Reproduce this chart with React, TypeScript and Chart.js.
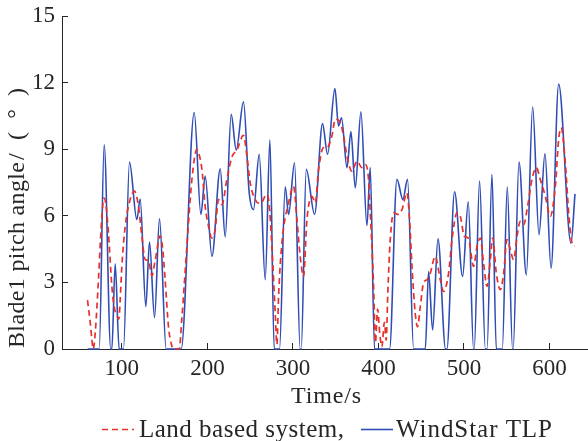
import { useEffect, useRef } from "react";
import { Chart, registerables } from "chart.js";

Chart.register(...registerables);

// Land based system: time (s) and blade 1 pitch angle (deg)
const landTime = [
  59.8, 63, 65, 66.5, 69, 72.6, 76, 79, 81, 84.3, 88.3, 91, 94.2, 96.5, 98, 100,
  103.9, 109.7, 114.7, 119.4, 123.4, 127.3, 131, 135.1, 139, 144.8, 147.5, 150.6,
  154.5, 158, 160, 167, 170.2, 176, 181.9, 187.7, 190, 193.6, 197.4, 201.3, 205.3,
  209.1, 213, 217, 222.8, 228.7, 234.5, 242.2, 246.2, 250, 255.9, 261.8, 269.6,
  272, 275.4, 279.3, 281.3, 283.2, 287.1, 294.9, 300.7, 304.7, 308.5, 312.4,
  316.4, 322.2, 326.1, 330, 335.8, 339.8, 345.6, 349.5, 355.3, 359.2, 363.2, 369,
  374.9, 380.7, 384.6, 388.4, 390.4, 392.4, 394.3, 396.5, 399, 401.5, 404, 407,
  409, 411, 413.8, 417.7, 423.5, 427.5, 433.3, 436.4, 439.2, 443, 445.7, 448.9,
  452.7, 456.7, 460.6, 466.4, 472.3, 476.1, 482, 486, 491.8, 495.7, 500.4, 505,
  511.2, 515.2, 519.1, 522.9, 526.9, 530.8, 533.5, 537.8, 542.5, 546.4, 550.3,
  554.2, 558, 562, 565.8, 569.7, 574.4, 579.5, 584.6, 589.2, 595.1, 600.9, 606.8,
  610.7, 613.5, 618.5, 622.4, 626.3, 629.3,
];
const landPitch = [
  2.2, 1.2, 0.4, 0, 0.8, 3.1, 5.6, 6.8, 6.6, 5.23, 2.82, 1.9, 1.5, 1.35, 2.2, 3.72,
  5.53, 6.73, 7.11, 6.43, 5.07, 4.02, 4.0, 3.3, 4.0, 5.1, 4.6, 3.12,
  1.0, 0.2, 0, 0, 1.4, 4.62, 7.64, 8.99, 8.8, 8.09, 6.43, 5.53, 5.0,
  5.38, 6.73, 6.5, 7.64, 8.66, 8.96, 9.62, 8.69, 7.49, 6.73, 6.55, 6.96,
  6.6, 4.62, 1.62, 0.2, 2.36, 4.77, 6.58, 7.33, 5.83, 4.17, 3.27,
  5.83, 6.88, 6.58, 8.09, 9.07, 9.07, 9.6, 10.35, 10.2, 9.6, 8.69, 8.01,
  8.46, 8.17, 8.31, 7.64, 6.13, 4.62, 2.82, 0.3, 1.8, 0.7, 0.1, 1.2,
  0.4, 2.6, 4.93, 6.13, 6.06, 6.28, 7.04, 5.83, 3.72, 1.61, 1.0, 1.91,
  2.97, 3.12, 3.42, 4.17, 3.12, 2.59, 3.42, 4.93, 6.13, 5.98, 5.07, 5.0,
  3.72, 4.62, 5.0, 3.87, 2.82, 4.02, 5.0, 3.42, 2.67, 3.42, 4.93,
  4.47, 4.02, 5.07, 5.75, 5.6, 6.43, 7.64, 8.17, 7.64, 6.88, 5.98, 7.33,
  9.44, 9.97, 8.39, 6.13, 4.77, 4.62,
];

// WindStar TLP: time (s) and blade 1 pitch angle (deg)
const tlpTime = [
  60, 73.5, 79.3, 87, 88.3, 92.2, 96.8, 101.9, 108.9, 117.5, 121.4, 128, 132.3,
  138.2, 144, 151.8, 169.3, 184.6, 192.4, 197.4, 205.3, 215, 220.8, 227.8, 233.7,
  242.2, 248.7, 253.9, 260.6, 267.6, 273.1, 278.1, 284.3, 291, 294.9, 301.9,
  308.5, 309.7, 315.6, 325.3, 334.6, 340.5, 349.1, 353.3, 356.8, 363.2, 367.8,
  372.9, 379.5, 386.5, 390.4, 395.4, 413, 421.6, 428.6, 434, 441.1, 454.8, 458.6,
  463.3, 469.6, 478.5, 480, 489, 498.4, 505, 511.2, 512, 518.2, 525, 527, 532.7,
  537.8, 544.8, 550.6, 556.8, 557.5, 564.3, 572.9, 580.3, 587.7, 594.7, 601.8,
  610.7, 625.1, 629.8,
];
const tlpPitch = [
  0, 0, 9.2, 0, 0, 3.84, 0, 0, 8.42, 5.83, 6.76, 1.91, 4.82,
  1.42, 5.86, 0, 0, 10.65, 6.06, 7.79, 4.17, 8.12, 5.05, 10.57, 8.96,
  11.13, 7.11, 6.28, 8.77, 3.12, 9.41, 0, 0, 7.31, 6.06, 8.39,
  0, 0, 8.09, 6.06, 10.15, 8.77, 11.73, 10.05, 10.42, 8.17, 9.79,
  7.26, 10.68, 5.56, 8.17, 0, 0, 7.64, 6.73, 7.64, 0, 0, 3.49,
  0.86, 4.96, 0, 0, 7.08, 3.27, 6.63, 0, 0, 7.56, 0, 0, 7.86,
  0, 0, 7.29, 0, 0, 8.42, 3.34, 10.9, 5.15, 8.8, 3.64,
  11.93, 4.77, 6.99,
];

const xTickValues = [100, 200, 300, 400, 500, 600];
const yTickValues = [0, 3, 6, 9, 12, 15];
const seriesNames = ["Land based system,", "WindStar TLP"];
const xTitle = "Time/s";
const yTitleMain = "Blade1 pitch angle";
const yTitleUnit = "/(°)";

const SERIF = '"Liberation Serif", "Times New Roman", serif';
const INK = "#262626";
const RED = "#e8302a";
const BLUE = "#2f4db4";

const toPoints = (xs: number[], ys: number[]) => xs.map((x, i) => ({ x, y: ys[i] }));

// Draws text stretched by letter spacing so that it spans the given width.
function spreadText(ctx: CanvasRenderingContext2D, text: string, x: number, y: number, width: number) {
  (ctx as any).letterSpacing = "0px";
  const natural = ctx.measureText(text).width;
  const gap = text.length > 1 ? Math.max(0, (width - natural) / (text.length - 1)) : 0;
  (ctx as any).letterSpacing = `${gap}px`;
  ctx.fillText(text, x, y);
  (ctx as any).letterSpacing = "0px";
}

const annotations = {
  id: "axisTitlesAndKey",
  afterDraw(chart: Chart) {
    const { ctx, chartArea } = chart;
    ctx.save();
    ctx.fillStyle = INK;
    ctx.textBaseline = "alphabetic";
    ctx.textAlign = "left";

    // x-axis title
    ctx.font = `24px ${SERIF}`;
    const cx = (chartArea.left + chartArea.right) / 2 + 2;
    spreadText(ctx, xTitle, cx - 36, 403, 70);

    // y-axis title, read bottom to top
    ctx.save();
    ctx.translate(24, 348);
    ctx.rotate(-Math.PI / 2);
    ctx.font = `24px ${SERIF}`;
    spreadText(ctx, yTitleMain, 0, 0, 186);
    spreadText(ctx, yTitleUnit, 188, 0, 72);
    ctx.restore();

    // key below the axis title
    const keyY = 429.5;
    ctx.lineWidth = 1.6;
    ctx.strokeStyle = RED;
    ctx.setLineDash([6, 4]);
    ctx.beginPath();
    ctx.moveTo(102, keyY);
    ctx.lineTo(134, keyY);
    ctx.stroke();
    ctx.setLineDash([]);
    ctx.strokeStyle = BLUE;
    ctx.beginPath();
    ctx.moveTo(361, keyY);
    ctx.lineTo(393, keyY);
    ctx.stroke();

    ctx.font = `25px ${SERIF}`;
    spreadText(ctx, seriesNames[0], 139, 437, 205);
    spreadText(ctx, seriesNames[1], 396, 437, 156);
    ctx.restore();
  },
};

export default function App() {
  const canvasRef = useRef<HTMLCanvasElement | null>(null);

  useEffect(() => {
    const canvas = canvasRef.current;
    if (!canvas) return;
    const chart = new Chart(canvas, {
      type: "line",
      data: {
        datasets: [
          {
            label: seriesNames[0],
            data: toPoints(landTime, landPitch),
            borderColor: RED,
            borderWidth: 1.7,
            borderDash: [6, 4],
            pointRadius: 0,
            cubicInterpolationMode: "monotone",
            fill: false,
          },
          {
            label: seriesNames[1],
            data: toPoints(tlpTime, tlpPitch),
            borderColor: BLUE,
            borderWidth: 1.6,
            pointRadius: 0,
            cubicInterpolationMode: "monotone",
            fill: false,
          },
        ],
      },
      options: {
        responsive: false,
        animation: false,
        devicePixelRatio: 1,
        clip: false,
        layout: { padding: { left: 0, right: 0, top: 16, bottom: 0 } },
        plugins: {
          legend: { display: false },
          tooltip: { enabled: false },
          title: { display: false },
        },
        scales: {
          x: {
            type: "linear",
            min: 30,
            max: 645,
            afterBuildTicks: (scale: any) => {
              scale.ticks = xTickValues.map((value) => ({ value }));
            },
            afterFit: (scale: any) => {
              scale.height = 92;
              scale.paddingLeft = 0;
              scale.paddingRight = 0;
            },
            grid: {
              display: true,
              drawOnChartArea: false,
              drawTicks: true,
              tickLength: -6,
              color: INK,
              lineWidth: 1,
            },
            border: { display: true, color: INK, width: 1 },
            ticks: {
              autoSkip: false,
              maxRotation: 0,
              padding: 12,
              color: INK,
              font: { family: SERIF, size: 23 },
            },
          },
          y: {
            type: "linear",
            min: 0,
            max: 15,
            afterBuildTicks: (scale: any) => {
              scale.ticks = yTickValues.map((value) => ({ value }));
            },
            afterFit: (scale: any) => {
              scale.width = 62;
              scale.paddingTop = 0;
              scale.paddingBottom = 0;
            },
            grid: {
              display: true,
              drawOnChartArea: false,
              drawTicks: true,
              tickLength: -6,
              color: INK,
              lineWidth: 1,
            },
            border: { display: true, color: INK, width: 1 },
            ticks: {
              autoSkip: false,
              padding: 13,
              color: INK,
              font: { family: SERIF, size: 23 },
            },
          },
        },
      },
      plugins: [annotations],
    });
    return () => chart.destroy();
  }, []);

  return (
    <div style={{ position: "absolute", left: 0, top: 0, width: 588, height: 441, background: "#fff" }}>
      <canvas ref={canvasRef} width={588} height={441} style={{ display: "block" }} />
    </div>
  );
}
